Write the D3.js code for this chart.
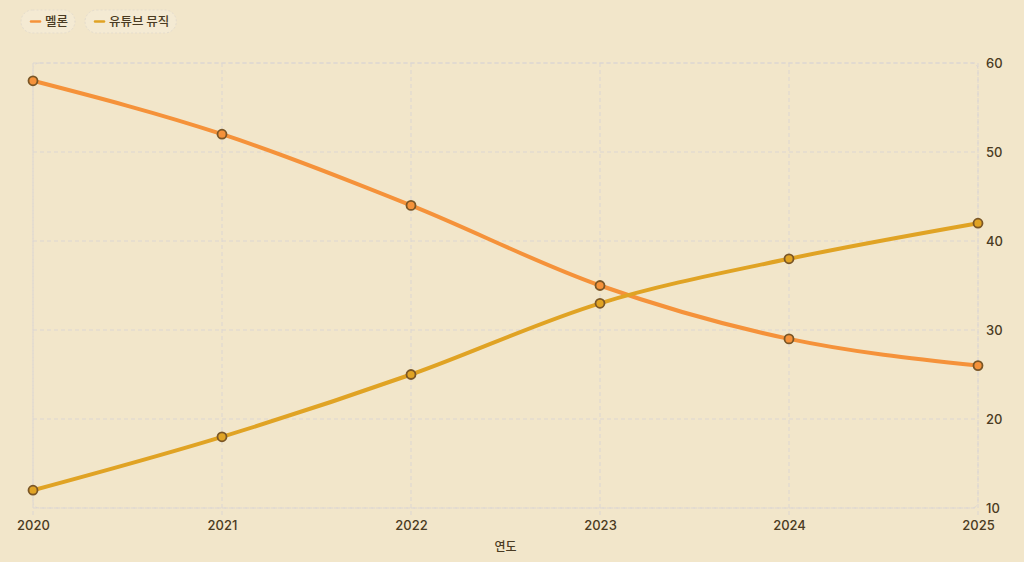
<!DOCTYPE html>
<html>
<head>
<meta charset="utf-8">
<script src="https://cdn.jsdelivr.net/npm/d3@7"></script>
<style>
  html, body { margin: 0; padding: 0; background: #f2e6ca; }
  body { width: 1024px; height: 562px; overflow: hidden; font-family: "Noto Sans CJK KR", "Noto Sans", sans-serif; }
</style>
</head>
<body>
<div class="chart"></div>
<script>
const years = [2020, 2021, 2022, 2023, 2024, 2025];
const melon = [58, 52, 44, 35, 29, 26];
const youtube = [12, 18, 25, 33, 38, 42];
const yTicks = [10, 20, 30, 40, 50, 60];
const seriesNames = ['멜론', '유튜브 뮤직'];
const seriesColors = ['#f5923a', '#e0a324'];

const W = 1024, H = 562;
const margin = { top: 63, left: 33, right: 46, bottom: 54 };
const width = W - margin.left - margin.right;
const height = H - margin.top - margin.bottom;
const textColor = '#4a3b22';
const gridColor = '#dcd6d2';
const numFont = 'Inter, "Noto Sans", sans-serif';

const svg = d3.select('.chart')
    .append('svg')
    .attr('width', W)
    .attr('height', H);

const g = svg.append('g')
    .attr('transform', `translate(${margin.left}, ${margin.top})`);

// scales
const xScale = d3.scaleLinear().domain(d3.extent(years)).range([0, width]);
const yScale = d3.scaleLinear().domain([10, 60]).range([height, 0]);

// grid
const grid = g.append('g').attr('class', 'grid');
grid.selectAll('.vgrid')
    .data(years)
    .enter()
    .append('line')
    .attr('x1', d => xScale(d)).attr('x2', d => xScale(d))
    .attr('y1', 0).attr('y2', height + 7)
    .style('stroke', gridColor).style('stroke-dasharray', '4,3').style('stroke-width', 1);
grid.selectAll('.hgrid')
    .data(yTicks)
    .enter()
    .append('line')
    .attr('x1', 0).attr('x2', width)
    .attr('y1', d => yScale(d)).attr('y2', d => yScale(d))
    .style('stroke', gridColor).style('stroke-dasharray', '4,3').style('stroke-width', 1);
grid.append('rect')
    .attr('x', 0).attr('y', 0).attr('width', width).attr('height', height)
    .attr('rx', 6)
    .style('fill', 'none').style('stroke', gridColor).style('stroke-dasharray', '4,3');

// axes
const xAxis = d3.axisBottom(xScale)
    .tickValues(years)
    .tickFormat(d3.format('d'))
    .tickSize(0)
    .tickPadding(13);
const xAxisDraw = g.append('g')
    .attr('class', 'x-axis')
    .attr('transform', `translate(0, ${height})`)
    .call(xAxis);
xAxisDraw.select('.domain').remove();
xAxisDraw.selectAll('text')
    .style('font-size', '13px').style('fill', textColor)
    .style('font-family', numFont).style('font-weight', 500);

const yAxis = d3.axisRight(yScale)
    .tickValues(yTicks)
    .tickSize(0)
    .tickPadding(8);
const yAxisDraw = g.append('g')
    .attr('class', 'y-axis')
    .attr('transform', `translate(${width}, 0)`)
    .call(yAxis);
yAxisDraw.select('.domain').remove();
yAxisDraw.selectAll('text')
    .style('font-size', '13px').style('fill', textColor)
    .style('font-family', numFont).style('font-weight', 500);

g.append('text')
    .attr('x', width / 2)
    .attr('y', height + 43)
    .attr('text-anchor', 'middle')
    .style('font-size', '12px')
    .style('font-weight', 500)
    .style('fill', textColor)
    .text('연도');

// lines
const seriesData = [melon, youtube].map((vals, i) => ({
    name: seriesNames[i],
    color: seriesColors[i],
    values: vals.map((v, j) => ({ year: years[j], value: v }))
}));

const lineGen = d3.line()
    .x(d => xScale(d.year))
    .y(d => yScale(d.value))
    .curve(d3.curveMonotoneX);

const chartGroup = g.append('g').attr('class', 'line-chart');
chartGroup.selectAll('.line-series')
    .data(seriesData)
    .enter()
    .append('path')
    .attr('class', 'line-series')
    .attr('d', d => lineGen(d.values))
    .style('fill', 'none')
    .style('stroke', d => d.color)
    .style('stroke-width', 4)
    .style('stroke-linecap', 'round');

seriesData.forEach(s => {
    chartGroup.selectAll(null)
        .data(s.values)
        .enter()
        .append('circle')
        .attr('cx', d => xScale(d.year))
        .attr('cy', d => yScale(d.value))
        .attr('r', 4.5)
        .style('fill', s.color)
        .style('stroke', '#7a5626')
        .style('stroke-width', 1.8);
});

// legend
const legend = svg.append('g').attr('class', 'legend').attr('transform', 'translate(21, 10)');
let lx = 0;
seriesData.forEach(s => {
    const item = legend.append('g').attr('transform', `translate(${lx}, 0)`);
    const label = item.append('text')
        .attr('x', 24).attr('y', 16)
        .style('font-size', '12.5px').style('font-weight', 500)
        .style('fill', textColor)
        .text(s.name);
    const tw = label.node().getComputedTextLength();
    const pw = tw + 31;
    item.insert('rect', 'text')
        .attr('x', 0).attr('y', 0)
        .attr('width', pw).attr('height', 23)
        .attr('rx', 11.5)
        .style('fill', '#f4ead3')
        .style('stroke', '#e4dccd')
        .style('stroke-dasharray', '2,2');
    item.append('line')
        .attr('x1', 10).attr('x2', 19)
        .attr('y1', 11.5).attr('y2', 11.5)
        .style('stroke', s.color).style('stroke-width', 2.5).style('stroke-linecap', 'round');
    lx += pw + 10;
});
</script>
</body>
</html>
